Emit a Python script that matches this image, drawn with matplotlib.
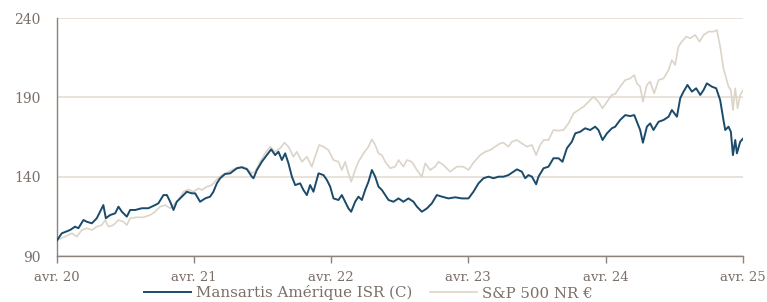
import matplotlib

matplotlib.use("Agg")
import matplotlib.pyplot as plt
import numpy as np
import pandas as pd

# time as decimal years, values rebased to 100
fund_t = [
    2020.250, 2020.284, 2020.345, 2020.381, 2020.405, 2020.442, 2020.466, 2020.503,
    2020.539, 2020.563, 2020.587, 2020.605, 2020.636, 2020.673, 2020.697, 2020.722,
    2020.758, 2020.782, 2020.819, 2020.867, 2020.915, 2020.964, 2020.988, 2021.025,
    2021.050, 2021.074, 2021.098, 2021.122, 2021.159, 2021.195, 2021.232, 2021.256,
    2021.292, 2021.329, 2021.365, 2021.389, 2021.414, 2021.438, 2021.474, 2021.511,
    2021.560, 2021.596, 2021.633, 2021.669, 2021.681, 2021.706, 2021.742, 2021.778,
    2021.810, 2021.839, 2021.863, 2021.888, 2021.912, 2021.936, 2021.961, 2021.985,
    2022.021, 2022.045, 2022.070, 2022.094, 2022.118, 2022.155, 2022.191, 2022.216,
    2022.240, 2022.264, 2022.300, 2022.325, 2022.349, 2022.373, 2022.393, 2022.422,
    2022.446, 2022.471, 2022.495, 2022.519, 2022.544, 2022.568, 2022.592, 2022.617,
    2022.641, 2022.665, 2022.701, 2022.738, 2022.774, 2022.810, 2022.847, 2022.872,
    2022.908, 2022.945, 2022.981, 2023.017, 2023.054, 2023.102, 2023.151, 2023.200,
    2023.248, 2023.284, 2023.321, 2023.357, 2023.394, 2023.430, 2023.467, 2023.503,
    2023.539, 2023.576, 2023.601, 2023.637, 2023.661, 2023.685, 2023.710, 2023.741,
    2023.758, 2023.795, 2023.831, 2023.867, 2023.904, 2023.933, 2023.965, 2024.001,
    2024.026, 2024.062, 2024.098, 2024.135, 2024.171, 2024.195, 2024.225, 2024.257,
    2024.293, 2024.317, 2024.353, 2024.390, 2024.426, 2024.456, 2024.475, 2024.499,
    2024.519, 2024.548, 2024.572, 2024.596, 2024.633, 2024.669, 2024.706, 2024.730,
    2024.767, 2024.791, 2024.815, 2024.844, 2024.876, 2024.907, 2024.937, 2024.961,
    2024.985, 2025.022, 2025.053, 2025.082, 2025.106, 2025.119, 2025.143, 2025.160,
    2025.175, 2025.192, 2025.204, 2025.228, 2025.250,
]
fund_v = [
    100.0, 104.3, 106.4, 108.5, 107.5, 112.7, 111.6, 110.6,
    113.8, 117.9, 122.1, 113.8, 115.8, 116.9, 121.1, 117.9,
    114.8, 119.0, 119.0, 120.1, 120.1, 122.1, 123.2, 128.4,
    128.4, 124.2, 119.0, 124.2, 127.4, 130.5, 129.5, 129.5,
    124.2, 126.3, 127.4, 130.5, 135.8, 139.0, 141.7, 142.1,
    145.3, 145.9, 144.7, 140.0, 139.0, 144.2, 149.4, 153.6,
    157.2, 153.6, 155.7, 150.5, 154.7, 148.4, 140.0, 134.7,
    135.8, 131.6, 128.4, 134.7, 130.5, 142.1, 141.0, 137.9,
    133.7, 126.3, 125.3, 128.4, 124.2, 120.0, 117.9, 124.2,
    127.4, 125.3, 131.6, 136.8, 144.2, 140.0, 133.7, 131.6,
    128.4, 125.3, 124.2, 126.3, 124.2, 126.3, 124.2, 121.1,
    117.9, 120.0, 123.2, 128.4, 127.4, 126.3, 127.0, 126.3,
    126.3, 130.5, 135.8, 139.0, 140.0, 139.0, 140.0, 140.0,
    141.0, 143.1, 144.6, 143.1, 139.0, 141.0, 140.0, 135.2,
    140.0, 145.3, 146.3, 151.6, 151.6, 149.4, 157.9, 162.0,
    167.3, 168.3, 170.5, 169.4, 171.5, 169.4, 163.1, 167.3,
    170.5, 171.5, 175.7, 178.8, 178.2, 178.8, 174.6, 169.4,
    161.4, 171.5, 173.6, 169.4, 174.6, 175.7, 177.8, 182.0,
    177.8, 189.4, 193.6, 197.8, 193.6, 195.7, 191.5, 194.6,
    198.8, 196.7, 195.7, 188.3, 175.7, 169.4, 171.5, 168.3,
    153.6, 163.1, 154.7, 162.0, 164.1,
]

bench_t = [
    2020.250, 2020.308, 2020.357, 2020.394, 2020.430, 2020.466, 2020.503, 2020.539,
    2020.576, 2020.600, 2020.624, 2020.660, 2020.697, 2020.733, 2020.758, 2020.782,
    2020.831, 2020.879, 2020.928, 2020.964, 2021.001, 2021.037, 2021.074, 2021.098,
    2021.134, 2021.171, 2021.207, 2021.243, 2021.280, 2021.305, 2021.341, 2021.378,
    2021.414, 2021.450, 2021.487, 2021.523, 2021.560, 2021.596, 2021.633, 2021.669,
    2021.693, 2021.730, 2021.766, 2021.802, 2021.839, 2021.875, 2021.907, 2021.936,
    2021.972, 2021.997, 2022.034, 2022.070, 2022.106, 2022.130, 2022.160, 2022.191,
    2022.227, 2022.264, 2022.300, 2022.325, 2022.349, 2022.373, 2022.393, 2022.422,
    2022.446, 2022.483, 2022.519, 2022.544, 2022.568, 2022.592, 2022.617, 2022.641,
    2022.677, 2022.714, 2022.738, 2022.774, 2022.799, 2022.835, 2022.872, 2022.908,
    2022.932, 2022.969, 2023.005, 2023.029, 2023.066, 2023.114, 2023.163, 2023.211,
    2023.248, 2023.284, 2023.333, 2023.370, 2023.406, 2023.442, 2023.479, 2023.503,
    2023.539, 2023.564, 2023.601, 2023.637, 2023.673, 2023.710, 2023.741, 2023.770,
    2023.795, 2023.831, 2023.867, 2023.904, 2023.940, 2023.977, 2024.013, 2024.050,
    2024.086, 2024.122, 2024.159, 2024.195, 2024.225, 2024.257, 2024.293, 2024.317,
    2024.353, 2024.390, 2024.426, 2024.456, 2024.475, 2024.499, 2024.519, 2024.548,
    2024.572, 2024.601, 2024.633, 2024.669, 2024.706, 2024.730, 2024.754, 2024.778,
    2024.803, 2024.835, 2024.864, 2024.900, 2024.932, 2024.961, 2024.997, 2025.034,
    2025.058, 2025.082, 2025.106, 2025.126, 2025.143, 2025.160, 2025.175, 2025.192,
    2025.209, 2025.228, 2025.250,
]
bench_v = [
    100.0, 102.2, 104.3, 102.2, 106.4, 107.5, 106.4, 108.5,
    109.5, 112.7, 108.5, 109.5, 112.7, 111.6, 109.5, 113.8,
    114.4, 114.4, 115.8, 117.9, 121.1, 122.1, 120.1, 122.1,
    125.3, 130.5, 132.0, 130.5, 132.6, 131.6, 133.7, 134.7,
    138.3, 141.0, 142.5, 144.2, 145.6, 146.3, 145.3, 142.1,
    143.1, 149.4, 154.7, 158.9, 155.7, 157.9, 161.4, 158.9,
    152.6, 155.7, 149.4, 152.6, 146.3, 152.6, 160.0, 158.9,
    156.8, 150.5, 149.4, 144.2, 149.4, 142.1, 136.8, 144.2,
    149.4, 154.7, 158.9, 163.5, 160.0, 154.7, 153.6, 149.4,
    145.3, 146.3, 150.5, 146.3, 150.5, 149.4, 144.2, 140.0,
    148.4, 144.2, 146.3, 149.4, 147.3, 143.1, 146.3, 146.3,
    144.2, 148.8, 153.6, 155.7, 156.8, 158.9, 161.0, 161.4,
    158.9, 162.0, 163.1, 161.0, 158.9, 160.0, 153.6, 160.0,
    163.1, 163.1, 169.4, 169.0, 169.4, 173.6, 179.9, 182.0,
    184.1, 187.2, 190.4, 187.2, 183.1, 187.2, 191.5, 192.1,
    196.7, 200.9, 201.9, 204.0, 198.8, 196.7, 187.2, 197.8,
    199.9, 192.5, 200.9, 201.9, 207.2, 213.5, 210.4, 222.0,
    225.1, 228.3, 227.2, 229.3, 225.1, 229.3, 231.4, 231.4,
    232.4, 222.0, 208.3, 202.0, 196.7, 194.6, 182.0, 195.7,
    183.1, 191.5, 194.6,
]

series_names = ["Mansartis Amérique ISR (C)", "S&P 500 NR €"]
y_ticks = [90, 140, 190, 240]
x_tick_years = [2020, 2021, 2022, 2023, 2024, 2025]

TEXT = "#7b6f68"
AXIS = "#8d837c"
GRID = "#e4ddd4"
BLUE = "#1b4a6b"
BEIGE = "#dcd4c8"


def to_dates(t):
    t = np.asarray(t)
    return pd.Timestamp("2020-01-01") + pd.to_timedelta((t - 2020) * 365.25, unit="D")


plt.rcParams["font.family"] = ["DejaVu Serif"]

fig = plt.figure(figsize=(7.67, 3.02), dpi=100)
ax = fig.add_axes([57 / 767, 1 - 256 / 302, 686 / 767, 238 / 302])

ax.plot(to_dates(fund_t), fund_v, color=BLUE, lw=1.4, label=series_names[0], zorder=3)
ax.plot(to_dates(bench_t), bench_v, color=BEIGE, lw=1.2, label=series_names[1], zorder=2)

ax.set_xlim(pd.Timestamp("2020-04-01"), pd.Timestamp("2025-04-01"))
ax.set_ylim(90, 240)

ax.set_yticks(y_ticks)
ax.set_yticklabels([str(v) for v in y_ticks])
ax.yaxis.grid(True, color=GRID, lw=1.2)
ax.set_axisbelow(True)
# small tick at the bottom of the y axis only
ax.set_yticks([90], minor=True)
ax.tick_params(axis="y", which="minor", length=5, width=1, color=AXIS)

xt = [pd.Timestamp(f"{y}-04-01") for y in x_tick_years]
ax.set_xticks(xt)
ax.set_xticklabels([f"avr. {y % 100}" for y in x_tick_years])

for side in ["top", "right"]:
    ax.spines[side].set_visible(False)
for side in ["left", "bottom"]:
    ax.spines[side].set_color(AXIS)
    ax.spines[side].set_linewidth(1.0)

ax.tick_params(axis="y", which="major", length=0, pad=12, labelsize=10, labelcolor=TEXT)
ax.tick_params(axis="x", length=5, width=1, color=AXIS, pad=6, labelsize=9.5, labelcolor=TEXT)

fig.legend(
    loc="center left",
    bbox_to_anchor=(144 / 767, 1 - 293 / 302),
    ncol=2,
    frameon=False,
    fontsize=10.8,
    labelcolor=TEXT,
    handlelength=3.1,
    handletextpad=0.35,
    columnspacing=1.2,
    borderpad=0,
    borderaxespad=0,
)

fig.savefig("out.png", dpi=100)
